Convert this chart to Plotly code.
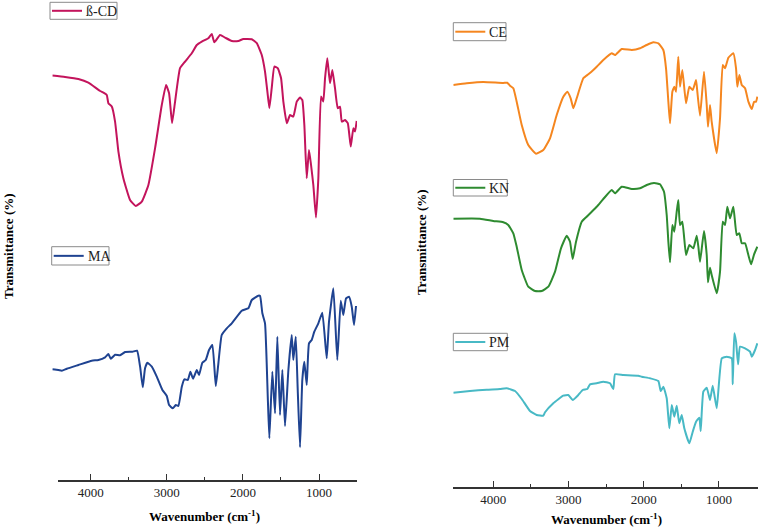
import plotly.graph_objects as go

# ---------------- data (wavenumber in cm^-1, transmittance in arbitrary %) ----------------
BCD_WN = [4505,4338,4163,4032,3878,3834,3790,3769,3724,3681,3637,3572,3484,3409,3330,3243,3155,3067,3011,2971,
          2932,2892,2827,2761,2673,2607,2541,2455,2410,2376,2301,2235,2147,2060,1995,1884,1818,1753,1710,1679,
          1653,1622,1587,1543,1499,1469,1424,1381,1338,1293,1250,1220,1193,1162,1132,1105,1075,1040,1009,974,
          944,921,891,856,825,790,754,724,701,658,622,583,549,527,505]
BCD_T = [77.2,76.5,75.5,73.7,69.5,68.7,67.5,63.4,61.7,54.2,39.2,25.9,15,12,14.2,22.5,40.9,62.5,72.5,68.4,
         53.4,64.2,80.9,84.2,88.4,92.5,94.2,95.9,98,93.9,97.5,96.2,94.5,94.5,95.5,95.4,93.4,87.5,79.2,69.2,
         60.9,70.9,81.7,80.9,75.9,64.2,53.4,57.5,56.7,64.2,66.2,65,52.5,25.9,40,32.5,22.5,6.2,25.9,66.7,
         64.2,75.9,85.9,73.4,80,70.9,60.9,61.7,54.2,55,53.4,41.7,50.9,49.2,54.5]

MA_WN = [4505,4426,4381,4315,4163,3987,3900,3812,3769,3737,3681,3615,3549,3453,3392,3352,3317,3287,3256,3198,
         3133,3059,3001,2971,2922,2883,2849,2804,2770,2725,2691,2656,2607,2577,2534,2489,2446,2402,2357,2323,
         2279,2213,2147,2016,1929,1884,1798,1775,1745,1710,1674,1653,1614,1578,1548,1513,1482,1447,1403,1359,
         1338,1306,1280,1250,1220,1193,1162,1132,1096,1062,1009,957,899,869,812,760,715,681,645,606,
         570,540,514]
MA_T = [50.35,50,49.65,50.65,52.5,54.65,55,56.35,58,55.65,57.65,57.35,59,59.15,59.65,51.65,41.35,50.85,53.65,51.65,
        46.65,40,37,32.5,30.85,32.5,32,41.65,45.35,45,49.15,45.65,50,47.5,53.65,55,60,62.5,42,53.35,
        67.5,70.85,73.35,79.65,80.85,85,87.15,87,78.35,73.35,36.65,15.85,49.15,28.35,66.65,27.5,50,22,50,67.5,
        55,66.65,40,11.35,45,54.15,42.5,63.35,65,69.15,73.35,78.65,55.85,74.15,90.85,55,84.65,77.5,85.85,86.65,
        81.65,72.5,82]

CE_WN = [4532,4354,4133,3867,3814,3778,3734,3689,3622,3535,3432,3335,3246,3157,3069,3016,2971,2936,2891,2803,
         2736,2670,2625,2537,2425,2381,2292,2159,2049,1960,1872,1805,1739,1703,1672,1650,1619,1593,1570,1540,
         1517,1486,1437,1393,1348,1304,1287,1251,1198,1162,1145,1118,1096,1029,985,949,918,874,808,772,
         755,728,696,652,608,563,532,506,489]
CE_T = [77.5,78.35,79,78.5,78.65,77.15,75.85,69.15,57.5,47.5,43.15,45,50.85,62.5,71.65,74.15,70.85,65.85,70.85,80.85,
        82.85,85,86.65,90,93.35,92.5,95.5,95,95.85,97.5,98.85,98.35,95,85.85,69.15,58.35,74.15,76.65,74.15,91.65,
        76.65,85,68.35,76.65,75,80,74.15,62.15,84.15,67.5,56.65,67.5,59.15,43.35,60.85,87.5,85.85,91.15,93.35,85.85,
        76.65,82.5,77.5,75.85,69.15,65.5,69.15,69.15,71.65]

KN_WN = [4532,4177,4000,3867,3801,3734,3689,3622,3535,3445,3356,3268,3179,3100,3024,2980,2944,2900,2824,2758,
         2691,2625,2537,2425,2381,2292,2159,2049,1960,1863,1783,1730,1694,1672,1650,1619,1593,1561,1540,1517,
         1486,1437,1393,1340,1295,1273,1251,1198,1162,1145,1118,1096,1029,985,949,918,888,852,808,763,
         728,696,652,608,572,532,489]
KN_T = [80.65,80.65,79.5,78.85,77.5,73.35,66.65,55,46.65,44.5,44.5,46.65,54.15,65.85,72.15,69.15,60.5,69.15,79.15,81.65,
        84.15,86.65,90.5,95,93.35,96.65,95.5,95.85,97.5,98.5,97.85,94.15,82.5,69.15,58.85,77.5,74.15,84.15,90,77.5,
        79.15,62.5,67.5,65.85,72.15,66.65,59.15,74.5,62.5,48.85,56.15,52.5,43.35,54.15,79.15,77.5,86.65,80.85,86.65,72.5,
        73.35,68.35,68.35,62.5,57.85,62.85,66.65]

PM_WN = [4532,4310,4088,3911,3822,3711,3622,3512,3423,3335,3312,3202,3069,3003,2944,2870,2811,2750,2714,2625,
         2537,2448,2404,2381,2271,2072,2026,1916,1805,1774,1739,1694,1659,1627,1593,1561,1527,1494,1460,1393,
         1348,1304,1260,1242,1207,1162,1118,1082,1029,962,896,829,816,795,772,745,719,652,586,563,
         519,489]
PM_T = [68.65,69.5,70.15,70.5,70.85,69.5,65.5,59.5,57.5,57.15,58.85,63.35,67.15,67.5,65,67.5,70,70.5,72.85,73.35,
        74.15,73.35,70.5,77.85,77.5,77.15,76.65,75.85,74.5,69.5,71.65,65.85,50.85,62.5,56.65,62.15,53.35,57.5,50.85,43.35,
        49.15,54.15,56.15,49.5,69.15,71.15,65,72.15,60.85,85.85,86.65,85.85,72.85,98.35,94.15,82.85,91.65,90.85,89.15,86.65,
        90,93.35]

MAJOR_TICKS = [4000, 3000, 2000, 1000]
MINOR_TICKS = [3500, 2500, 1500]
X_TITLE = "<b>Wavenumber (cm<sup>-1</sup>)</b>"
Y_TITLE = "<b>Transmittance (%)</b>"

# ---------------- layout helpers ----------------
W, H = 760, 529
FONT = "Liberation Serif"


def fx(p):
    return p / W


def fy(p):
    return 1 - p / H


series = [
    ("ß-CD", BCD_WN, BCD_T, "#C3145C", "x", "y"),
    ("MA", MA_WN, MA_T, "#1F4391", "x", "y2"),
    ("CE", CE_WN, CE_T, "#F5861F", "x2", "y3"),
    ("KN", KN_WN, KN_T, "#2E8B30", "x2", "y4"),
    ("PM", PM_WN, PM_T, "#48B9C5", "x2", "y5"),
]

fig = go.Figure()
for name, wn, t, col, xa, ya in series:
    fig.add_trace(go.Scatter(x=wn, y=t, name=name, mode="lines", xaxis=xa, yaxis=ya,
                             line=dict(color=col, width=2, shape="spline", smoothing=0.4),
                             showlegend=False, hoverinfo="x+y+name"))
# empty trace that only registers the visible left wavenumber axis
fig.add_trace(go.Scatter(x=[], y=[], xaxis="x3", yaxis="y6", mode="lines",
                         showlegend=False, hoverinfo="skip"))

hidden = dict(visible=False, showgrid=False, zeroline=False, fixedrange=True)
tickstyle = dict(visible=True, showline=True, linecolor="#333333", linewidth=1.5, showgrid=False, zeroline=False,
                 ticks="inside", ticklen=6, tickwidth=1.3, tickcolor="#333333",
                 tickmode="array", tickvals=MAJOR_TICKS,
                 minor=dict(tickmode="array", tickvals=MINOR_TICKS, ticks="inside", ticklen=3,
                            tickwidth=1.3, tickcolor="#333333", showgrid=False),
                 tickfont=dict(family=FONT, size=13, color="#222222"), fixedrange=True)

fig.update_layout(
    width=W, height=H, margin=dict(l=0, r=0, t=0, b=0),
    paper_bgcolor="white", plot_bgcolor="rgba(0,0,0,0)",
    showlegend=False,
    xaxis=dict(domain=[fx(52.3), fx(357)], range=[4506, 501], anchor="y", **hidden),
    xaxis2=dict(domain=[fx(453.3), fx(758)], range=[4532, 480], anchor="free",
                position=fy(487.7), **tickstyle),
    xaxis3=dict(domain=[fx(58.3), fx(357)], range=[4426, 501], anchor="y6", **tickstyle),
    yaxis=dict(domain=[0, 1], range=[-149.5, 115], anchor="x", **hidden),
    yaxis2=dict(domain=[0, 1], range=[-29.5, 235], anchor="x", **hidden),
    yaxis3=dict(domain=[0, 1], range=[-144.5, 120], anchor="x2", **hidden),
    yaxis4=dict(domain=[0, 1], range=[-74.5, 190], anchor="x2", **hidden),
    yaxis5=dict(domain=[0, 1], range=[0.5, 265], anchor="x2", **hidden),
    yaxis6=dict(domain=[fy(480), 1], range=[0, 1], anchor="x3", **hidden),
)

ann = []
ann.append(dict(text=X_TITLE, x=fx(204), y=fy(516), xref="paper", yref="paper", showarrow=False,
                font=dict(family=FONT, size=13, color="black"), xanchor="center", yanchor="middle"))
ann.append(dict(text=X_TITLE, x=fx(606), y=fy(519), xref="paper", yref="paper", showarrow=False,
                font=dict(family=FONT, size=13, color="black"), xanchor="center", yanchor="middle"))
ann.append(dict(text=Y_TITLE, x=fx(8), y=fy(246), xref="paper", yref="paper", showarrow=False, textangle=-90,
                font=dict(family=FONT, size=13, color="black"), xanchor="center", yanchor="middle"))
ann.append(dict(text=Y_TITLE, x=fx(422), y=fy(242), xref="paper", yref="paper", showarrow=False, textangle=-90,
                font=dict(family=FONT, size=13, color="black"), xanchor="center", yanchor="middle"))

boxes = [(50, 117, 2.3, 19.3), (51.7, 109, 246.7, 265), (453.3, 506, 22.7, 40.7),
         (453.3, 507.3, 179.5, 196), (453.3, 507.3, 333.3, 350.7)]
shapes = []
for (name, wn, t, col, xa, ya), (x0, x1, y0, y1) in zip(series, boxes):
    shapes.append(dict(type="rect", xref="paper", yref="paper", x0=fx(x0), x1=fx(x1), y0=fy(y1), y1=fy(y0),
                       line=dict(color="#8a8a8a", width=1), fillcolor="white", layer="above"))
    ym = (y0 + y1) / 2
    shapes.append(dict(type="line", xref="paper", yref="paper", x0=fx(x0 + 2), x1=fx(x0 + 32), y0=fy(ym), y1=fy(ym),
                       line=dict(color=col, width=2), layer="above"))
    ann.append(dict(text=name, x=fx(x0 + 34), y=fy(ym + 0.5), xref="paper", yref="paper", showarrow=False,
                    xanchor="left", yanchor="middle", font=dict(family=FONT, size=14, color="#222222")))

fig.update_layout(annotations=ann, shapes=shapes)
fig.write_html("out.html", config={"displayModeBar": False},
               post_script="document.body.style.margin='0px';document.body.style.overflow='hidden';")
